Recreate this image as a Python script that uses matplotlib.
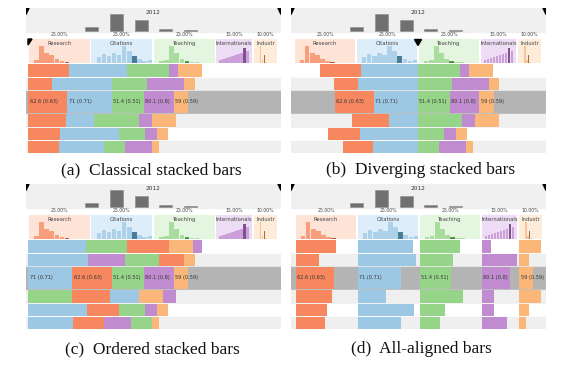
import numpy as np
import matplotlib.pyplot as plt
from matplotlib.patches import Polygon
from matplotlib.transforms import blended_transform_factory

# columns of the ranking and their weights
columns = ['Research', 'Citations', 'Teaching', 'Internationals', 'Industr']
weights = np.array([0.25, 0.25, 0.25, 0.15, 0.10])
weight_labels = ['25.00%', '25.00%', '25.00%', '15.00%', '10.00%']

# normalized scores of the six visible rows
research = [0.66, 0.39, 0.63, 0.60, 0.51, 0.49]
citations = [0.92, 0.96, 0.71, 0.46, 0.94, 0.72]
teaching = [0.67, 0.55, 0.51, 0.71, 0.42, 0.34]
international = [0.25, 0.98, 0.80, 0.35, 0.33, 0.72]
industry = [0.96, 0.44, 0.59, 0.97, 0.43, 0.30]

selected_row = 2
selected_labels = ['62.6 (0.63)', '71 (0.71)', '51.4 (0.51)', '80.1 (0.8)', '59 (0.59)']

year = '2012'
year_hist = [12, 50, 32, 5, 2]

# header histograms (12 bins over [0, 1]) and the bin of the selected row
hist_research = [0, 3, 17, 10, 8, 4, 2, 1, 0, 0, 0, 0]
hist_citations = [0, 6, 9, 7, 10, 8, 17, 12, 7, 4, 2, 3]
hist_teaching = [0, 2, 3, 17, 10, 4, 2, 1, 1, 0, 0, 0]
hist_international = [0, 3, 4, 5, 6, 7, 8, 9, 10, 15, 12, 0]
hist_industry = [0, 0, 0, 17, 3, 8, 1, 0, 0, 0, 0, 0]
hist_dark = [7, 8, 6, 9, 5]

captions = ['(a)  Classical stacked bars', '(b)  Diverging stacked bars',
            '(c)  Ordered stacked bars', '(d)  All-aligned bars']

colors = ['#f7875f', '#9dc8e4', '#96d48a', '#c18bcf', '#fbb77a']
light = ['#fde4d7', '#ddedf9', '#e4f5e0', '#eddcf3', '#feecda']
dark = ['#b8552f', '#3f7893', '#4b8c44', '#7a4a8a', '#9c6533']

vals = np.array([research, citations, teaching, international, industry])
hists = [hist_research, hist_citations, hist_teaching, hist_international, hist_industry]
seg = vals * weights[:, None]
n_cols, n_rows = vals.shape

# vertical layout of a panel, in pixels from its top
ROW_H = [12.5, 12.5, 22, 12.5, 12.5, 11.5]
ROW_GAP = 1.0
ROWS_TOP = 56
PANEL_H = 145


def layout(mode):
    col_start = np.cumsum(weights) - weights
    widths = seg.copy()
    if mode == 'classical':
        left = np.cumsum(seg, axis=0) - seg
        xlim = (-0.008, 1.012)
    elif mode == 'diverging':
        left = np.zeros_like(seg)
        left[0] = -(seg[0] + seg[1])
        left[1] = -seg[1]
        left[3] = seg[2]
        left[4] = seg[2] + seg[3]
        col_start = col_start - 0.5
        xlim = (-0.512, 0.516)
    elif mode == 'ordered':
        left = np.zeros_like(seg)
        for i in range(n_rows):
            pos = 0
            for j in np.argsort(-seg[:, i], kind='stable'):
                left[j, i] = pos
                pos += seg[j, i]
        xlim = (-0.008, 1.012)
    else:
        gap = 0.004
        left = np.repeat((col_start + gap)[:, None], n_rows, axis=1)
        widths = vals * (weights - 2 * gap)[:, None]
        xlim = (-0.016, 1.012)
    return left, widths, col_start, xlim


def draw_panel(ax, mode):
    left, widths, col_start, xlim = layout(mode)
    ax.set_xlim(*xlim)
    ax.set_ylim(PANEL_H, 0)
    ax.axis('off')
    axx = blended_transform_factory(ax.transAxes, ax.transData)

    # year band with its histogram
    ax.axhspan(0, 24, color='#f0f0f0', zorder=0)
    ax.text(0.5, 5, year, transform=axx, ha='center', va='center', fontsize=4.2, color='#333333')
    scale = 17 / max(year_hist)
    for k, c in enumerate(year_hist):
        h = max(c * scale, 0.6)
        ax.bar(0.255 + 0.098 * k, h, width=0.051, bottom=23 - h, transform=axx,
               color='#707070', edgecolor='#8a8a8a', linewidth=0.4, zorder=2)
    for pts in ([(0, 0), (0.012, 0), (0, 6.5)], [(1, 0), (0.988, 0), (1, 6.5)]):
        ax.add_patch(Polygon(pts, closed=True, color='black', transform=axx, zorder=5))

    # column headers
    hmax = max(max(h) for h in hists)
    for j in range(n_cols):
        x0 = col_start[j] + 0.003
        x1 = col_start[j] + weights[j] - 0.003
        ax.bar((x0 + x1) / 2, 24, width=x1 - x0, bottom=31, color=light[j], zorder=1)
        ax.text((x0 + x1) / 2, 27, weight_labels[j], ha='center', va='center',
                fontsize=3.3, color='#444444')
        ax.text((x0 + x1) / 2, 35.5, columns[j], ha='center', va='center',
                fontsize=3.8, color='#444444')
        nb = len(hists[j])
        bw = (x1 - x0) / nb
        for b, c in enumerate(hists[j]):
            if c == 0:
                continue
            h = c / hmax * 17
            col = dark[j] if b == hist_dark[j] else colors[j]
            ax.bar(x0 + (b + 0.5) * bw, h, width=bw * 0.85, bottom=55 - h,
                   color=col, alpha=0.95 if b == hist_dark[j] else 0.75, linewidth=0, zorder=2)

    if mode == 'classical':
        ax.add_patch(Polygon([(0, 31), (0.016, 31), (0, 37)], closed=True, color='black', zorder=5))
    if mode == 'diverging':
        ax.add_patch(Polygon([(-0.014, 31.5), (0.014, 31.5), (0, 37.5)], closed=True,
                             color='black', zorder=5))

    # rows
    top = ROWS_TOP
    for i in range(n_rows):
        h = ROW_H[i]
        if i == selected_row:
            bg = '#b4b4b4'
        else:
            bg = '#ffffff' if i % 2 == 0 else '#efefef'
        ax.axhspan(top, top + h, color=bg, zorder=0.5)
        yc = top + h / 2
        ax.barh(np.full(n_cols, yc), widths[:, i], height=h, left=left[:, i],
                color=colors, linewidth=0, zorder=2)
        if i == selected_row:
            for j in range(n_cols):
                ax.text(left[j, i] + 0.006, yc, selected_labels[j], ha='left', va='center',
                        fontsize=3.6, color='#333333', zorder=4)
        top += h + ROW_GAP


fig = plt.figure(figsize=(5.66, 3.70), dpi=100)
W, H = 566, 370
boxes = [(26, 8), (291, 8), (26, 184), (291, 184)]
modes = ['classical', 'diverging', 'ordered', 'aligned']
cap_pos = [(151, 170), (421, 170), (152, 349), (421, 349)]
for (x, y), mode, cap, (cx, cy) in zip(boxes, modes, captions, cap_pos):
    ax = fig.add_axes([x / W, 1 - (y + PANEL_H) / H, 255 / W, PANEL_H / H])
    draw_panel(ax, mode)
    fig.text(cx / W, 1 - cy / H, cap, ha='center', va='center',
             fontsize=12.5, family='Liberation Serif', color='#111111')

fig.savefig('out.png', dpi=100)
